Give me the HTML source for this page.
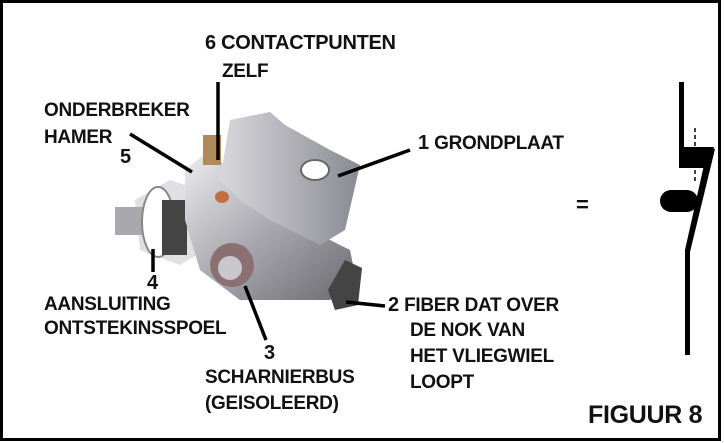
<!DOCTYPE html>
<html><head><meta charset="utf-8"><style>
body{margin:0;background:#fff;width:724px;height:443px;overflow:hidden;position:relative;font-family:"Liberation Sans",sans-serif;}
.t{position:absolute;font-weight:bold;font-size:19px;color:#111;white-space:nowrap;letter-spacing:-0.3px;line-height:20px}
</style></head><body>
<svg width="724" height="443" style="position:absolute;left:0;top:0">
<defs>
<linearGradient id="m" x1="0" y1="0" x2="1" y2="1"><stop offset="0" stop-color="#eeeef0"/><stop offset="0.5" stop-color="#a8a8ae"/><stop offset="1" stop-color="#6a6a70"/></linearGradient>
<linearGradient id="m2" x1="0" y1="0" x2="1" y2="0"><stop offset="0" stop-color="#d8d8dc"/><stop offset="1" stop-color="#8a8a92"/></linearGradient>
</defs>
<rect x="1.5" y="1.5" width="718" height="438" fill="none" stroke="#000" stroke-width="3"/>
<polygon points="135,200 170,180 200,190 205,250 180,265 140,250" fill="#e0e0e4"/>
<rect x="115" y="207" width="30" height="28" fill="#a8a8ae"/>
<ellipse cx="158" cy="222" rx="16" ry="35" fill="#fff" stroke="#888" stroke-width="2"/>
<rect x="162" y="200" width="25" height="55" fill="#444"/>
<polygon points="185,170 210,150 260,200 330,240 350,250 355,275 330,300 240,300 200,270 185,220" fill="url(#m)"/>
<polygon points="230,120 270,112 285,125 330,150 360,165 345,230 320,245 270,220 240,200 220,180" fill="url(#m2)"/>
<ellipse cx="315" cy="170" rx="14" ry="10" fill="#fff" stroke="#666" stroke-width="2"/>
<rect x="203" y="135" width="18" height="30" fill="#b08a5a"/>
<ellipse cx="232" cy="265" rx="22" ry="22" fill="#8a7070"/>
<ellipse cx="230" cy="268" rx="12" ry="12" fill="#c8c8cc"/>
<ellipse cx="222" cy="197" rx="7" ry="6" fill="#c07040"/>
<polygon points="345,260 362,268 358,305 335,310 328,290" fill="#444"/>
<g stroke="#000" stroke-width="3.5" stroke-linecap="butt">
<line x1="218" y1="82" x2="218" y2="160"/>
<line x1="130" y1="134" x2="192" y2="172"/>
<line x1="410" y1="150" x2="338" y2="176"/>
<line x1="153" y1="249" x2="153" y2="272"/>
<line x1="245" y1="286" x2="266" y2="340"/>
<line x1="346" y1="302" x2="385" y2="306"/>
</g>
<g fill="#000">
<rect x="679" y="82" width="5" height="68"/>
<polygon points="679,147 714,147 708,168 679,168"/>
<polygon points="708,147 715,149 690,252 685,250"/>
<rect x="685" y="250" width="5" height="105"/>
<rect x="660" y="190" width="38" height="22" rx="11"/>
</g>
<line x1="695" y1="128" x2="695" y2="182" stroke="#000" stroke-width="1.5" stroke-dasharray="4,3"/>
</svg>
<div class="t" style="left:205px;top:33px;font-size:20px">6 CONTACTPUNTEN</div>
<div class="t" style="left:222px;top:62px">ZELF</div>
<div class="t" style="left:44px;top:101px">ONDERBREKER</div>
<div class="t" style="left:44px;top:128px">HAMER</div>
<div class="t" style="left:120px;top:147px;font-size:20px">5</div>
<div class="t" style="left:418px;top:133px;font-size:20px">1 <span style="font-size:19px">GRONDPLAAT</span></div>
<div class="t" style="left:576px;top:195px;font-size:22px">=</div>
<div class="t" style="left:147px;top:273px;font-size:20px">4</div>
<div class="t" style="left:44px;top:295px">AANSLUITING</div>
<div class="t" style="left:44px;top:319px">ONTSTEKINSSPOEL</div>
<div class="t" style="left:264px;top:343px;font-size:20px">3</div>
<div class="t" style="left:205px;top:368px">SCHARNIERBUS</div>
<div class="t" style="left:205px;top:394px">(GEISOLEERD)</div>
<div class="t" style="left:388px;top:295px;font-size:20px">2 <span style="font-size:19px">FIBER DAT OVER</span></div>
<div class="t" style="left:410px;top:321px">DE NOK VAN</div>
<div class="t" style="left:410px;top:347px">HET VLIEGWIEL</div>
<div class="t" style="left:410px;top:373px">LOOPT</div>
<div class="t" style="left:588px;top:401px;font-size:25px;line-height:28px">FIGUUR 8</div>
</body></html>
